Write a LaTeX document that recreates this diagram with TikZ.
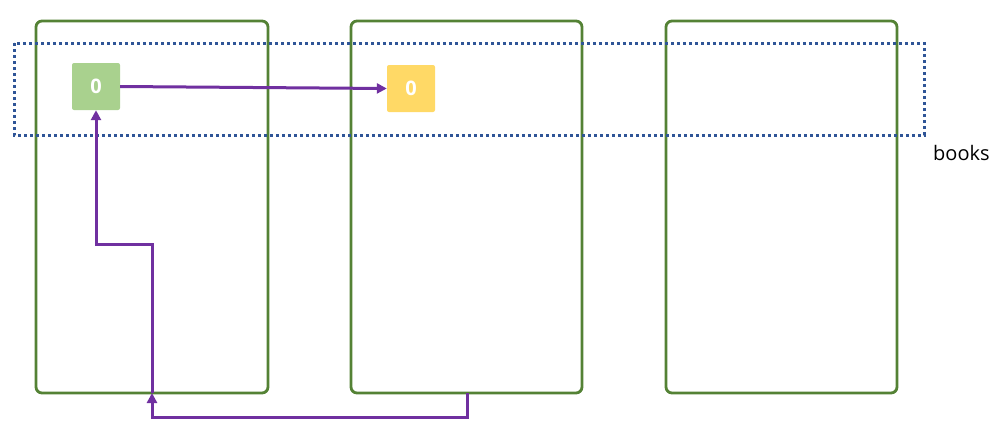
\documentclass[tikz,border=0pt]{standalone}
\usepackage{fontspec}
\setmainfont{Open Sans}
\usetikzlibrary{arrows.meta}
\definecolor{frameg}{HTML}{548235}
\definecolor{dotb}{HTML}{2F5597}
\definecolor{cellg}{HTML}{A9D18E}
\definecolor{celly}{HTML}{FFD966}
\definecolor{arrp}{HTML}{7030A0}
\tikzset{
  frame/.style={draw=frameg, line width=2.8pt, rounded corners=6pt},
  cell/.style={minimum width=48pt, minimum height=47pt, inner sep=0pt, rounded corners=2pt, text=white, font=\fontsize{20}{24}\selectfont\bfseries},
  link/.style={draw=arrp, line width=3pt, -{Triangle[length=10pt,width=10pt]}},
}
\begin{document}
\begin{tikzpicture}[x=1pt,y=-1pt]
\useasboundingbox (0,0) rectangle (1001,432);
\draw[frame] (36,21) rectangle (268,393);
\draw[frame] (351,21) rectangle (582,393);
\draw[frame] (666,21) rectangle (897,393);
\draw[draw=dotb, line width=3pt, dash pattern=on 3pt off 3pt] (14,43) rectangle (924,135);
\node[anchor=west, font=\fontsize{20}{24}\selectfont, inner sep=0pt] (lbl) at (933,153) {books};
\node[cell, fill=cellg] (g) at (96,86.5) {0};
\node[cell, fill=celly] (y) at (411,88.5) {0};
\coordinate (b2) at (467,393);
\coordinate (b1) at (152,393);
\draw[link] (g.east) -- (y.west);
\draw[link] (b2) -- (467,417) -- (152,417) -- (b1);
\draw[link] (b1) -- (152,244) -- (96,244) -- (g.south);
\end{tikzpicture}
\end{document}
